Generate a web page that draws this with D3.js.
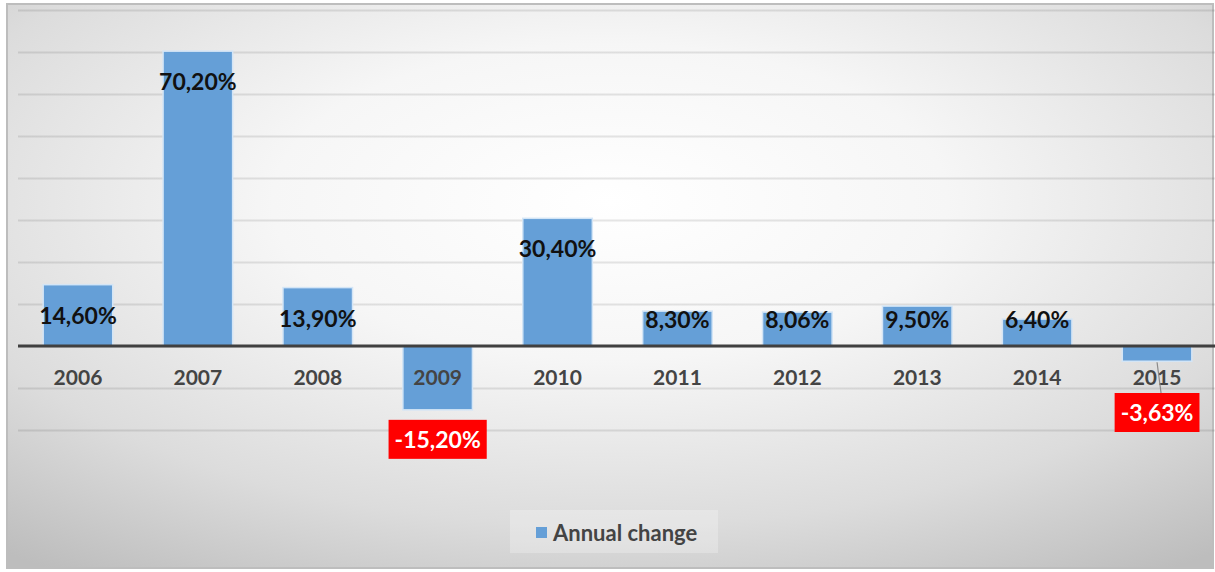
<!DOCTYPE html>
<html>
<head>
<meta charset="utf-8">
<script src="https://cdn.jsdelivr.net/npm/d3@7"></script>
<style>
  html, body { margin: 0; padding: 0; background: #ffffff; }
  svg { display: block; font-family: Lato, "Open Sans", sans-serif; }
</style>
</head>
<body>
<svg id="chart" width="1215" height="572"></svg>
<script>
// Annual change per year, in percent
const years = ["2006", "2007", "2008", "2009", "2010", "2011", "2012", "2013", "2014", "2015"];
const annualChange = [14.60, 70.20, 13.90, -15.20, 30.40, 8.30, 8.06, 9.50, 6.40, -3.63];
const gridTicks = [-20, -10, 0, 10, 20, 30, 40, 50, 60, 70, 80];
const seriesName = "Annual change";

const W = 1215, H = 572;
const svg = d3.select("#chart");
const defs = svg.append("defs");

// Background panel with a soft radial grey gradient
const grad = defs.append("radialGradient")
  .attr("id", "bg").attr("cx", "50%").attr("cy", "35%").attr("r", "80%");
grad.append("stop").attr("offset", "0%").attr("stop-color", "#ffffff");
grad.append("stop").attr("offset", "35%").attr("stop-color", "#f6f6f6");
grad.append("stop").attr("offset", "72%").attr("stop-color", "#dcdcdc");
grad.append("stop").attr("offset", "100%").attr("stop-color", "#bdbdbd");

// Gridlines fade out toward the top of the plot
const gridGrad = defs.append("linearGradient")
  .attr("id", "gridFade").attr("gradientUnits", "userSpaceOnUse")
  .attr("x1", 0).attr("x2", 0).attr("y1", 0).attr("y2", 440);
gridGrad.append("stop").attr("offset", "0%").attr("stop-color", "#000").attr("stop-opacity", 0.1);
gridGrad.append("stop").attr("offset", "50%").attr("stop-color", "#000").attr("stop-opacity", 0.26);
gridGrad.append("stop").attr("offset", "100%").attr("stop-color", "#000").attr("stop-opacity", 0.46);

svg.append("rect")
  .attr("x", 7).attr("y", 4).attr("width", W - 9).attr("height", H - 8)
  .attr("fill", "url(#bg)")
  .attr("stroke", "#bdbdbd").attr("stroke-width", 2);

const plot = { left: 18, right: 1217, top: 10, bottom: 430 };

const x = d3.scaleBand()
  .domain(years)
  .range([plot.left, plot.right])
  .paddingInner(0.42)
  .paddingOuter(0.21);

const y = d3.scaleLinear()
  .domain([d3.min(gridTicks), d3.max(gridTicks)])
  .range([plot.bottom, plot.top]);

// Horizontal gridlines
const grid = svg.append("g")
  .attr("transform", `translate(${plot.left},0)`)
  .call(d3.axisRight(y).tickValues(gridTicks).tickSize(W - plot.left).tickFormat(""));
grid.select(".domain").remove();
grid.selectAll(".tick line").attr("stroke", "url(#gridFade)").attr("stroke-width", 2.2);

// Bars
const data = years.map((yr, i) => ({ year: yr, value: annualChange[i] }));
svg.append("g").selectAll("rect")
  .data(data)
  .join("rect")
  .attr("x", d => x(d.year))
  .attr("width", x.bandwidth())
  .attr("y", d => y(Math.max(0, d.value)))
  .attr("height", d => Math.abs(y(d.value) - y(0)))
  .attr("fill", "#659fd7")
  .attr("stroke", "#d3e5f6")
  .attr("stroke-width", 1.5);

// Zero line / category axis
const xAxis = svg.append("g")
  .attr("transform", `translate(0,${y(0)})`)
  .call(d3.axisBottom(x).tickSize(0).tickPadding(0));
xAxis.select(".domain").remove();
svg.append("line")
  .attr("x1", plot.left).attr("x2", W)
  .attr("y1", y(0)).attr("y2", y(0))
  .attr("stroke", "#404040").attr("stroke-width", 3);
xAxis.selectAll(".tick text")
  .attr("y", 32)
  .attr("dy", "0.35em")
  .attr("font-family", "Lato, sans-serif")
  .attr("font-size", 21)
  .attr("font-weight", 700)
  .attr("fill", "#444444");

// Value labels
const loc = d3.formatLocale({ decimal: ",", thousands: ".", grouping: [3], currency: ["", "%"], minus: "-" });
const fmt = v => loc.format(".2f")(v) + "%";

const labels = svg.append("g");
const catLabelBottom = y(0) + 46;

data.forEach(d => {
  const cx = x(d.year) + x.bandwidth() / 2;
  if (d.value >= 0) {
    const cy = Math.min(y(d.value) + 31, y(0) - 26);
    labels.append("text")
      .attr("x", cx).attr("y", cy)
      .attr("dy", "0.35em")
      .attr("text-anchor", "middle")
      .attr("font-size", 23).attr("font-weight", 700)
      .attr("fill", "#111111")
      .text(fmt(d.value));
  } else {
    const end = y(d.value);
    const boxTop = Math.max(end + 10, catLabelBottom + 1);
    const g = labels.append("g");
    if (boxTop > end + 12) {
      // leader line from bar end down to a label moved past the category text
      g.append("line")
        .attr("x1", cx).attr("y1", end + 1)
        .attr("x2", cx + 4).attr("y2", boxTop)
        .attr("stroke", "#8a8a8a").attr("stroke-width", 1.2);
    }
    const t = g.append("text")
      .attr("x", cx).attr("y", boxTop + 20)
      .attr("dy", "0.35em")
      .attr("text-anchor", "middle")
      .attr("font-size", 23).attr("font-weight", 700)
      .attr("fill", "#ffffff")
      .text(fmt(d.value));
    const bb = t.node().getBBox();
    g.insert("rect", "text")
      .attr("x", bb.x - 6).attr("y", boxTop)
      .attr("width", bb.width + 12).attr("height", 39)
      .attr("fill", "#ff0000");
  }
});

// Legend
const legend = svg.append("g");
legend.append("rect")
  .attr("x", 510).attr("y", 510).attr("width", 208).attr("height", 43)
  .attr("fill", "#ffffff").attr("opacity", 0.25);
legend.append("rect")
  .attr("x", 536).attr("y", 527).attr("width", 11).attr("height", 11)
  .attr("fill", "#659fd7");
legend.append("text")
  .attr("x", 553).attr("y", 533).attr("dy", "0.35em")
  .attr("font-size", 22).attr("font-weight", 700)
  .attr("fill", "#444444")
  .text(seriesName);
</script>
</body>
</html>
